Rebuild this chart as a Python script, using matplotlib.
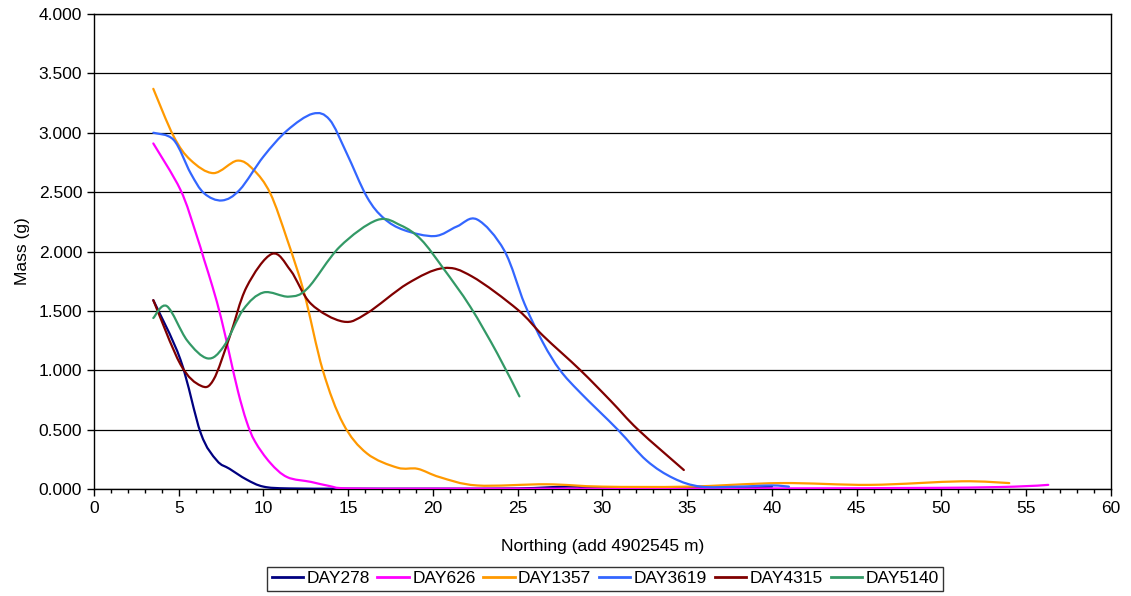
import matplotlib
matplotlib.use("Agg")
import matplotlib.pyplot as plt
from matplotlib.path import Path
from matplotlib.patches import PathPatch
from matplotlib.lines import Line2D
from matplotlib.ticker import MultipleLocator, FormatStrFormatter

plt.rcParams['font.family'] = ['Liberation Sans', 'DejaVu Sans']

# Readings: northing (m) and mass (g) per sampling day.
day278_x = [3.5, 5.1, 6.3, 7.25, 8.0, 9.0, 10.0, 11.5, 15, 20, 25, 28, 30, 35, 40]
day278_y = [1.59, 1.09, 0.47, 0.24, 0.17, 0.08, 0.02, 0.005, 0.003, 0.003, 0.005, 0.02, 0.01, 0.01, 0.02]

day626_x = [3.5, 5.1, 6.0, 6.5, 7.0, 7.5, 8.0, 8.5, 9.0, 9.5, 10.4, 11.4, 12.8, 13.9, 15, 20, 30, 40, 50, 54.3,
            56.3]
day626_y = [2.91, 2.52, 2.16, 1.93, 1.70, 1.44, 1.13, 0.82, 0.57, 0.40, 0.22, 0.10, 0.06, 0.025, 0.005, 0.003,
            0.003, 0.005, 0.01, 0.02, 0.035]

day1357_x = [3.5, 4.7, 5.7, 7.05, 8.45, 9.4, 10.4, 11.4, 12.4, 13.5, 14.7, 16.1, 17.9, 19.1, 20.4, 22.6, 26.7,
             30, 35, 40.5, 45.8, 51.2, 54]
day1357_y = [3.37, 2.97, 2.77, 2.66, 2.765, 2.69, 2.49, 2.10, 1.65, 1.0, 0.55, 0.30, 0.18, 0.17, 0.10, 0.03, 0.04,
             0.02, 0.02, 0.05, 0.035, 0.065, 0.05]

day3619_x = [3.5, 4.7, 5.7, 6.5, 7.55, 8.6, 10.0, 11.4, 12.9, 13.9, 14.9, 16.1, 17.1, 18.3, 20.1, 21.4, 22.6,
             24.2, 25.4, 26.5, 27.5, 28.7, 30.9, 32.6, 34.2, 35.8, 38, 40, 41]
day3619_y = [3.0, 2.94, 2.66, 2.49, 2.43, 2.52, 2.80, 3.02, 3.16, 3.11, 2.83, 2.46, 2.28, 2.18, 2.13, 2.21, 2.27,
             2.01, 1.56, 1.23, 1.0, 0.81, 0.50, 0.24, 0.09, 0.02, 0.02, 0.03, 0.02]

day4315_x = [3.5, 5.1, 6.3, 7.05, 8.0, 9.0, 10.5, 11.6, 12.8, 14.7, 16.1, 18.5, 20.6, 22.3, 25.0, 26.5, 28.7,
             30.5, 32.1, 34.8]
day4315_y = [1.59, 1.05, 0.87, 0.92, 1.28, 1.70, 1.98, 1.84, 1.56, 1.41, 1.48, 1.73, 1.86, 1.79, 1.51, 1.29, 1.0,
             0.74, 0.5, 0.16]

day5140_x = [3.5, 4.3, 5.5, 6.7, 7.65, 8.8, 10.0, 11.5, 12.6, 14.5, 16.7, 18.1, 19.3, 20.6, 22.2, 23.8, 25.1]
day5140_y = [1.44, 1.54, 1.25, 1.10, 1.20, 1.51, 1.655, 1.62, 1.69, 2.04, 2.265, 2.22, 2.10, 1.86, 1.535, 1.14,
             0.78]

series_names = ['DAY278', 'DAY626', 'DAY1357', 'DAY3619', 'DAY4315', 'DAY5140']
series_x = [day278_x, day626_x, day1357_x, day3619_x, day4315_x, day5140_x]
series_y = [day278_y, day626_y, day1357_y, day3619_y, day4315_y, day5140_y]
series_colors = ['#000080', '#FF00FF', '#FF9900', '#3366FF', '#800000', '#339966']


# Excel-style smoothed line: cubic bezier segments through the points.
def smooth_path(xs, ys):
	pts = list(zip(xs, ys))
	verts = [pts[0]]
	codes = [Path.MOVETO]
	n = len(pts)
	for i in range(n - 1):
		p0 = pts[max(i - 1, 0)]
		p1 = pts[i]
		p2 = pts[i + 1]
		p3 = pts[min(i + 2, n - 1)]
		c1 = (p1[0] + (p2[0] - p0[0]) / 6.0, p1[1] + (p2[1] - p0[1]) / 6.0)
		c2 = (p2[0] - (p3[0] - p1[0]) / 6.0, p2[1] - (p3[1] - p1[1]) / 6.0)
		verts += [c1, c2, p2]
		codes += [Path.CURVE4, Path.CURVE4, Path.CURVE4]
	return Path(verts, codes)


fig = plt.figure(figsize=(11.31, 5.96), dpi=100)
ax = fig.add_axes([0.0831, 0.1795, 0.8992, 0.797])

for xs, ys, col in zip(series_x, series_y, series_colors):
	ax.add_patch(PathPatch(smooth_path(xs, ys), facecolor='none', edgecolor=col, lw=1.6,
						   capstyle='round', joinstyle='round', zorder=3))

ax.set_xlim(0, 60)
ax.set_ylim(0, 4)
ax.xaxis.set_major_locator(MultipleLocator(5))
ax.xaxis.set_minor_locator(MultipleLocator(1))
ax.yaxis.set_major_locator(MultipleLocator(0.5))
ax.yaxis.set_major_formatter(FormatStrFormatter('%.3f'))
ax.grid(axis='y', color='black', lw=0.9)
ax.set_axisbelow(True)
for sp in ax.spines.values():
	sp.set_color('black')
	sp.set_linewidth(1.0)
ax.tick_params(axis='both', which='major', direction='out', length=5, width=1, labelsize=12.5, colors='black')
ax.tick_params(axis='x', which='minor', direction='out', length=3, width=1)

ax.set_xlabel('Northing (add 4902545 m)', fontsize=12.5)
ax.set_ylabel('Mass (g)', fontsize=12.5)
ax.xaxis.set_label_coords(0.5, -0.105)
ax.yaxis.set_label_coords(-0.063, 0.5)

handles = [Line2D([], [], color=c, lw=2) for c in series_colors]
leg = fig.legend(handles, series_names, loc='center', bbox_to_anchor=(0.535, 0.029), ncol=6, fontsize=12.5,
				 frameon=True, fancybox=False, edgecolor='black', handlelength=1.8, handletextpad=0.2,
				 columnspacing=0.45, borderpad=0.25)
leg.get_frame().set_linewidth(1.0)

fig.savefig('out.png', dpi=100)
